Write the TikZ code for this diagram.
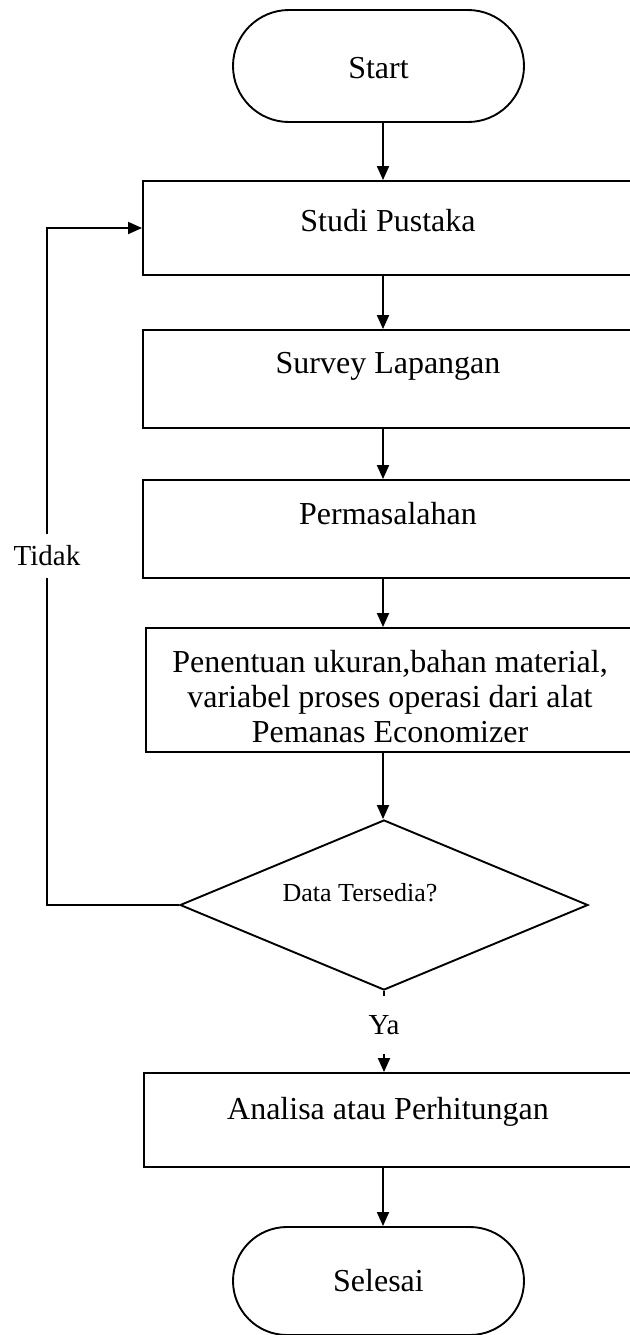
\documentclass[tikz,border=0pt]{standalone}
\usepackage{fontspec}
\setmainfont{Liberation Serif}
\usetikzlibrary{shapes.misc,shapes.geometric,arrows.meta}
\begin{document}
\begin{tikzpicture}[x=0.5pt,y=-0.5pt,
 line width=0.95pt,
 term/.style={draw,rounded rectangle,minimum width=145.5pt,inner sep=0pt},
 procbox/.style={draw,rectangle,inner sep=0pt},
 txt/.style={font=\fontsize{16}{17.5}\selectfont,inner sep=0pt,align=center},
 arr/.style={-{Triangle[length=7pt,width=6pt]}},
 lbl/.style={font=\fontsize{14.5}{16}\selectfont,fill=white,inner sep=0pt}
]
\useasboundingbox (0,0) rectangle (630,1335);
\clip (0,0) rectangle (630,1335);
\coordinate (ax) at (383,0);
% shapes
\node[term,minimum height=56pt] (start) at (378.5,66) {};
\node[txt] (tstart) at (378.5,68) {Start};
\node[procbox,minimum width=245.5pt,minimum height=47pt] (studi) at (388.5,228) {};
\node[txt] (tstudi) at (388,221) {Studi Pustaka};
\node[procbox,minimum width=245.5pt,minimum height=49pt] (survey) at (388.5,379) {};
\node[txt] (tsurvey) at (388,366) {Survey Lapangan};
\node[procbox,minimum width=245.5pt,minimum height=49pt] (masalah) at (388.5,529) {};
\node[txt] (tmasalah) at (388,514) {Permasalahan};
\node[procbox,minimum width=244pt,minimum height=62pt] (penentuan) at (390,690) {};
\node[txt] (tpenentuan) at (390,697) {Penentuan ukuran,bahan material,\\variabel proses operasi dari alat\\Pemanas Economizer};
\node[draw,diamond,minimum width=204pt,minimum height=85pt,inner sep=0pt] (dec) at (384,905) {};
\node[txt,font=\fontsize{13}{15}\selectfont] (tdec) at (360,893) {Data Tersedia?};
\node[procbox,minimum width=245pt,minimum height=47pt] (analisa) at (389,1120) {};
\node[txt] (tanalisa) at (388,1112) {Analisa atau Perhitungan};
\node[term,minimum height=54pt] (selesai) at (378.5,1281) {};
\node[txt] (tselesai) at (378.5,1281) {Selesai};
% labels
\node[lbl,minimum height=28pt] (ya) at (384,1025) {Ya};
\node[lbl,minimum height=21pt] (tidak) at (47,556) {Tidak};
% connectors
\draw[arr] (start.south -| ax) -- (studi.north -| ax);
\draw[arr] (studi.south -| ax) -- (survey.north -| ax);
\draw[arr] (survey.south -| ax) -- (masalah.north -| ax);
\draw[arr] (masalah.south -| ax) -- (penentuan.north -| ax);
\draw[arr] (penentuan.south -| ax) -- (dec.north -| ax);
\draw (dec.south) -- (ya.north);
\draw[arr] (ya.south) -- (analisa.north -| ya.south);
\draw[arr] (analisa.south -| ax) -- (selesai.north -| ax);
\draw (dec.west) -| (tidak.south);
\draw[arr] (tidak.north) |- (studi.west);
\end{tikzpicture}
\end{document}
